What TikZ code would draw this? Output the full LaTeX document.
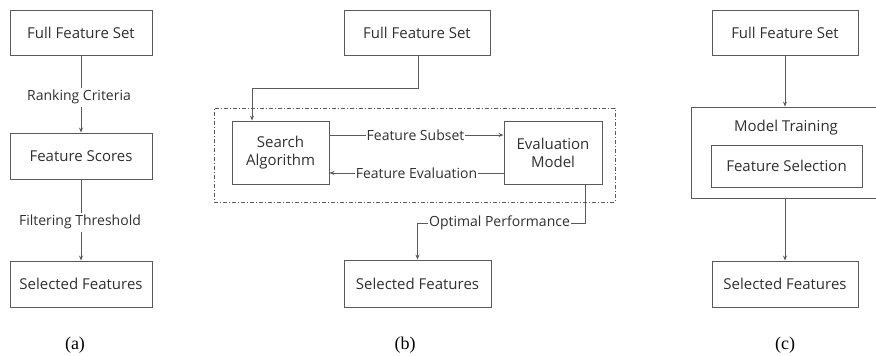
\documentclass[tikz,border=0pt]{standalone}
\usepackage{fontspec}
\setmainfont{Open Sans}
\newfontfamily\capfont{Liberation Serif}
\usetikzlibrary{arrows.meta}
\definecolor{ink}{HTML}{303030}
\definecolor{edge}{HTML}{5A5A5A}
\tikzset{
  box/.style={draw=edge, line width=0.9pt, inner sep=0pt, text=ink, align=center,
              font=\fontsize{15}{18}\selectfont},
  lab/.style={inner sep=1pt, text=ink, font=\fontsize{14}{16}\selectfont},
  wlab/.style={lab, fill=white},
  conn/.style={draw=edge, line width=0.8pt, -{Stealth[length=5pt,width=4pt]}},
  subcap/.style={text=black, font=\capfont\fontsize{18}{20}\selectfont},
  dashbox/.style={draw=edge, line width=0.9pt, dash pattern=on 4pt off 2pt on 1pt off 2pt}
}
\begin{document}
\begin{tikzpicture}[x=1pt,y=-1pt]
\useasboundingbox (0,0) rectangle (876,356);
% ---------- (a)
\node[box, minimum width=142pt, minimum height=45pt] (a1) at (81,32.5) {Full Feature Set};
\node[box, minimum width=142pt, minimum height=46pt] (a2) at (81,156) {Feature Scores};
\node[box, minimum width=142pt, minimum height=46pt] (a3) at (81,284) {Selected Features};
\draw[conn] (a1) -- (a2);
\draw[conn] (a2) -- (a3);
\node[wlab, inner sep=2.5pt] (ra) at (79,97) {Ranking Criteria};
\node[wlab, inner sep=2.5pt] (fa) at (80,222) {Filtering Threshold};
\node[subcap] (capa) at (75,345) {(a)};
% ---------- (b)
\node[dashbox, minimum width=401pt, minimum height=94pt, inner sep=0pt] (frame) at (414.5,155) {};
\node[box, minimum width=146pt, minimum height=45pt] (b1) at (417,32.5) {Full Feature Set};
\node[box, minimum width=97pt, minimum height=63pt] (srch) at (280.5,152.5) {Search\\Algorithm};
\node[box, minimum width=98pt, minimum height=63pt] (eval) at (553,152.5) {Evaluation\\Model};
\node[box, minimum width=147pt, minimum height=47pt] (b3) at (417.5,283.5) {Selected Features};
\coordinate (bend1) at (418,88);
\draw[conn] (b1.south -| bend1) -- (bend1) -| ([xshift=-28.5pt]srch.north);
\draw[conn] (srch.east |- 0,135) -- (eval.west |- 0,135)
  node[wlab, midway, xshift=-1pt] (fs) {Feature Subset};
\draw[conn] (eval.west |- 0,173) -- (srch.east |- 0,173)
  node[wlab, midway] (fe) {Feature Evaluation};
\coordinate (op) at (585,223);
\draw[conn] ([xshift=32pt]eval.south) -- (op) -| (b3.north);
\node[wlab] (opl) at (499.5,223) {Optimal Performance};
\node[subcap] (capb) at (405,345) {(b)};
% ---------- (c)
\node[box, minimum width=146pt, minimum height=45pt] (c1) at (785,32.5) {Full Feature Set};
\node[box, minimum width=186pt, minimum height=91pt] (mt) at (784,152.5) {};
\node[lab, font=\fontsize{15}{18}\selectfont] (mtl) at (786,128) {Model Training};
\node[box, minimum width=151pt, minimum height=42pt] (fsel) at (786.5,166) {Feature Selection};
\node[box, minimum width=146pt, minimum height=46pt] (c3) at (785,284) {Selected Features};
\draw[conn] (c1.south) -- (c1.south |- mt.north);
\draw[conn] (c1.south |- mt.south) -- (c3.north);
\node[subcap] (capc) at (785,345) {(c)};
\end{tikzpicture}
\end{document}
